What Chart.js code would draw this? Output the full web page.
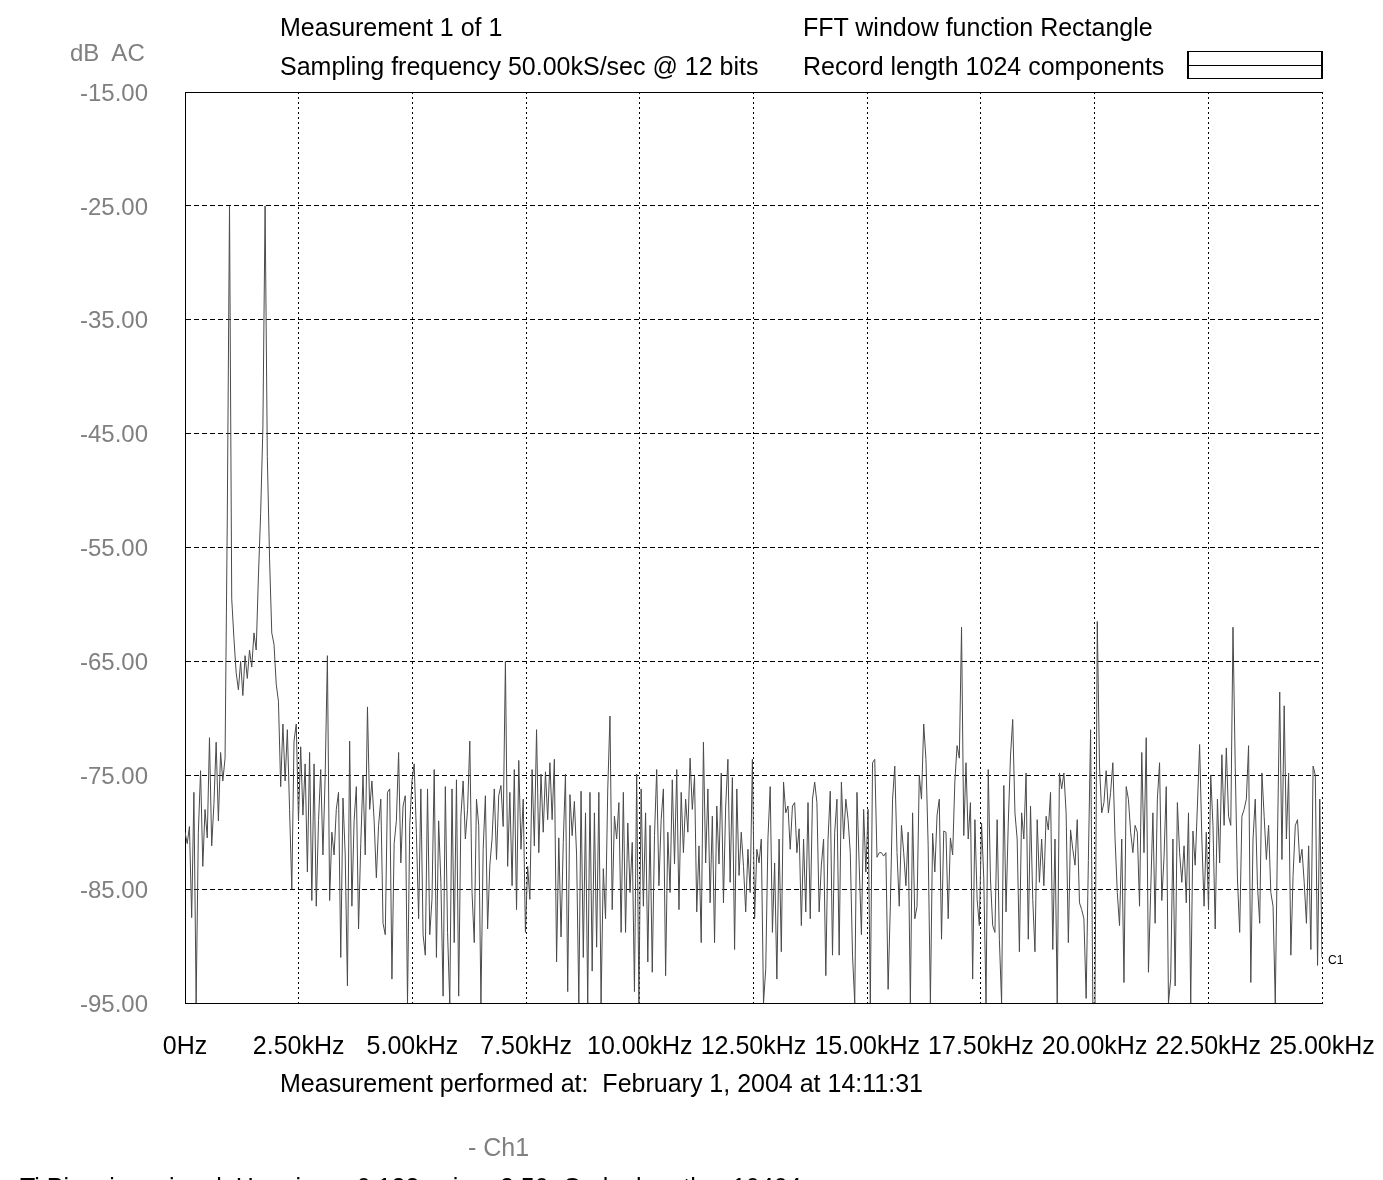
<!DOCTYPE html>
<html><head><meta charset="utf-8">
<script src="https://cdn.jsdelivr.net/npm/chart.js@4.4.1/dist/chart.umd.min.js"></script>
<style>
html,body{margin:0;padding:0;background:#fff;width:1383px;height:1180px;overflow:hidden;}
#wrap{position:relative;width:1383px;height:1180px;overflow:hidden;}
canvas{position:absolute;left:0;top:0;}
.t{position:absolute;font-family:"Liberation Sans",Arial,sans-serif;font-size:25px;line-height:30px;color:#000;white-space:pre;}
.g{color:#808080;}
#legbox{position:absolute;left:1187px;top:51px;width:132px;height:26px;border-top:1px solid #000;border-bottom:1px solid #000;border-left:2px solid #000;border-right:2px solid #000;}
#legline{position:absolute;left:0;top:13px;width:132px;height:0;border-top:1px solid #000;}
</style></head><body><div id="wrap">
<canvas id="c" width="1383" height="1180"></canvas>
<div class="t" style="left:280px;top:12px">Measurement 1 of 1</div>
<div class="t" style="left:280px;top:51px">Sampling frequency 50.00kS/sec @ 12 bits</div>
<div class="t" style="left:803px;top:12px">FFT window function Rectangle</div>
<div class="t" style="left:803px;top:51px">Record length 1024 components</div>
<div class="t g" style="left:70px;top:38px;font-size:24px">dB  AC</div>
<div id="legbox"><div id="legline"></div></div>
<div class="t" style="left:280px;top:1068px">Measurement performed at:  February 1, 2004 at 14:11:31</div>
<div class="t g" style="left:468px;top:1132px">- Ch1</div>
<div class="t" style="left:20px;top:1172px">Ti Pi    sine  signal  Hanning    0.123   sine  2.50  Ovrlp  length    10404</div>
<div class="t" style="left:1328px;top:952px;font-size:12px;line-height:16px">C1</div>
</div>
<script>
const maxFreq = 25000;
const xTickValues = [0,2500,5000,7500,10000,12500,15000,17500,20000,22500,25000];
const xTickLabels = ['0Hz','2.50kHz','5.00kHz','7.50kHz','10.00kHz','12.50kHz','15.00kHz','17.50kHz','20.00kHz','22.50kHz','25.00kHz'];
const yTickValues = [-95,-85,-75,-65,-55,-45,-35,-25,-15];
const yTickLabels = ['-95.00','-85.00','-75.00','-65.00','-55.00','-45.00','-35.00','-25.00','-15.00'];
const dbValues = [
-80,-81,-79.5,-87.5,-76.5,-95,-80,-74.6,-83,-78,
-80.5,-71.7,-81.2,-77.5,-72.1,-79,-73,-75.5,-73.5,-52.5,
-25,-59.5,-63,-66,-67.5,-65,-68,-64.5,-66.5,-64,
-65.5,-62.5,-64,-57.5,-52,-44.5,-25,-47,-56,-62.5,
-63.5,-67,-68.5,-76,-70.5,-75.5,-71,-78,-85,-72,
-70.5,-79,-72.5,-78.5,-74,-83.5,-73,-86,-74,-86.5,
-79,-74.5,-82,-75,-64.5,-86,-80,-82,-78,-76.5,
-91,-77,-82,-93.5,-72,-86.5,-79,-76,-88.5,-81,
-75,-82,-69,-78,-75.5,-79,
-84,-79.4,-77.1,-88,-89,-76.5,-76.2,-92.9,-81,-79,
-73,-82.7,-77.7,-76.8,-95,-79.4,-75.5,-74,-80.1,-87.6,
-76.2,-89,-90.8,-76.2,-89,-85.9,-74.5,-91,-79,-84.4,
-94.4,-76,-88.8,-95,-76.2,-89.7,-75.4,-94.4,-78.6,-75.5,
-80.6,-78,-72,-85.3,-89.7,-77.1,-79.4,-95,-81.5,-76.8,
-88.5,-82.9,-80.6,-76.2,-82.4,-76.8,-75.9,-79.5,-65,-83,
-76.5,-84.7,-74.5,-86.8,-73.7,-81.5,-77.1,-88.8,-83,-85.9,
-74.5,-81.2,-71,-81.8,-74.9,-80,-74.7,-78.9,-73.9,-78.9,
-73.6,-91.4,-80.5,-89.2,-80.9,
-74.9,-94,-76.7,-80.3,-77.3,-82,-95,-76.4,-91,-78.3,
-95,-76.5,-92.2,-78.3,-90.1,-76.5,-95,-83.2,-87.6,-76.2,
-69.8,-86.8,-78.6,-80.6,-77.4,-88.8,-76.5,-88.8,-79.2,-85.3,
-80.9,-94,-74.9,-95,-76.2,-86.5,-78.3,-91.4,-79.4,-92.3,
-80.3,-74.5,-84.7,-78.9,-76.2,-92.6,-80,-85.3,-75.4,-82.8,
-74.5,-86.8,-76.5,-81.8,-77.1,-80,-73.5,-78,-75.1,-87,
-81.2,-89.7,-72.1,-82.7,-76.2,-86.2,-78.6,-89.7,-77.7,-82.8,
-74.8,-86.2,-77.7,-73.6,-84.4,-75.2,-90.3,-76.2,-83.8,-80,
-83,-87,-81.5,-85.3,-73.6,-87.6,
-81.5,-82.7,-80.6,-95,-92,-80.5,-76,-88.8,-82.7,-92.9,
-80.6,-90.5,-75.6,-78.3,-77.7,-81.5,-77.7,-77.4,-81.8,-79.7,
-88.2,-80.6,-87,-77.4,-87.6,-77.1,-75.6,-77.4,-87,-82.9,
-80.6,-92.6,-80.6,-76.4,-90.8,-80,-77.1,-90.8,-75.6,-80.6,
-77.1,-78.9,-81.8,-90.8,-95,-76.5,-82.9,-89,-78,-83.5,
-78,-95,-73.9,-73.6,-82.2,-81.8,-81.8,-82.1,-81.8,-93.8,
-86.5,-77.1,-74.2,-81.8,-86.5,-79.4,-81.8,-84.7,-80,-95,
-78.3,-87.6,-86.5,-75,-77.1,-70.5,-73.6,-81.2,-95,-80.1,
-83.5,-78.5,-77.1,-89.4,-79.9,
-80,-87.6,-80.5,-82,-75.5,-72.4,-73.5,-62,-80.3,-73.9,
-80.6,-77.4,-92.9,-78.9,-85.9,-88.2,-79.2,-84.1,-95,-74.5,
-84.1,-88.2,-88.8,-78.9,-89.4,-95,-75.9,-87,-79.2,-73.3,
-70.1,-78.3,-80.6,-90.5,-78.3,-80.6,-74.8,-89.4,-77.7,-85.9,
-90.5,-78.9,-84.4,-80.6,-84.7,-78.6,-79.8,-76.5,-90.3,-80.6,
-95,-74.8,-76.2,-74.8,-78.3,-89.7,-79.8,-81.5,-82.9,-78.9,
-86.2,-86.8,-87.6,-94.6,-82.5,-71,-95,-95,-61.5,-74.2,
-78.3,-77.4,-74.6,-78.3,-76.5,-73.9,-80.6,-85.3,-88.2,-80.6,
-93.2,-76,-77.1,-80,-81.8,-79.4,
-80,-86.5,-73,-81.8,-71.7,-92.3,-85.3,-78.3,-88,-77.1,
-73.9,-86,-82.2,-76,-95,-92.9,-80.6,-93.5,-77.4,-81.8,
-84.4,-81.2,-86.2,-78.3,-95,-79.9,-82.9,-77.7,-72.3,-80.6,
-86.5,-80,-86.8,-75,-79.4,-88.5,-77.1,-82.7,-73.2,-79.4,
-72.6,-78.6,-79.4,-62,-74.2,-84.1,-88.8,-78.6,-78,-77.1,
-72.4,-93.2,-80.6,-77.1,-84.7,-88,-74.8,-78.6,-82.4,-79.4,
-85.3,-86.5,-95,-80.6,-67.7,-82.4,-68.9,-80.6,-74.8,-90.8,
-83.8,-79.4,-78.9,-82.7,-81.5,-84.4,-88,-81.2,-90.3,-74.2,
-75,-91.7,-77.1,-91
];
const freqs = dbValues.map((_, i) => i * maxFreq / (dbValues.length - 1));
const points = dbValues.map((v, i) => ({x: freqs[i], y: v}));
const FONT = '"Liberation Sans", Arial, sans-serif';

new Chart(document.getElementById('c'), {
  type: 'line',
  data: { datasets: [{
    label: 'Ch1', data: points, borderColor: '#4a4a4a', borderWidth: 1,
    pointRadius: 0, tension: 0, fill: false
  }]},
  options: {
    responsive: false, animation: false, devicePixelRatio: 1,
    layout: { padding: { left: 0, top: 92, right: 61, bottom: 0 } },
    plugins: { legend: { display: false }, tooltip: { enabled: false } },
    scales: {
      x: {
        type: 'linear', min: 0, max: maxFreq,
        afterBuildTicks: s => { s.ticks = xTickValues.map(v => ({ value: v })); },
        afterFit: s => { s.height = 177; s.paddingLeft = 0; s.paddingRight = 0; },
        ticks: { callback: (v, i) => xTickLabels[i], color: '#000', font: { family: FONT, size: 25 }, padding: 29, maxRotation: 0, autoSkip: false },
        grid: { color: '#000', lineWidth: 1, drawTicks: false },
        border: { display: true, color: '#000', width: 1, dash: [2,3] }
      },
      xTop: {
        type: 'linear', position: 'top', min: 0, max: maxFreq,
        ticks: { display: false },
        grid: { drawOnChartArea: false, drawTicks: false },
        border: { display: true, color: '#000', width: 1 },
        afterFit: s => { s.height = 0; s.paddingLeft = 0; s.paddingRight = 0; }
      },
      y: {
        min: -95, max: -15,
        afterBuildTicks: s => { s.ticks = yTickValues.map(v => ({ value: v })); },
        afterFit: s => { s.width = 185; s.paddingTop = 0; s.paddingBottom = 0; },
        ticks: { callback: (v, i) => yTickLabels[i], color: '#808080', font: { family: FONT, size: 24 }, padding: 37, labelOffset: 2 },
        grid: { color: '#000', lineWidth: 1, drawTicks: false },
        border: { display: true, color: '#000', width: 1, dash: [5,3] }
      }
    }
  }
});
</script>
</body></html>
